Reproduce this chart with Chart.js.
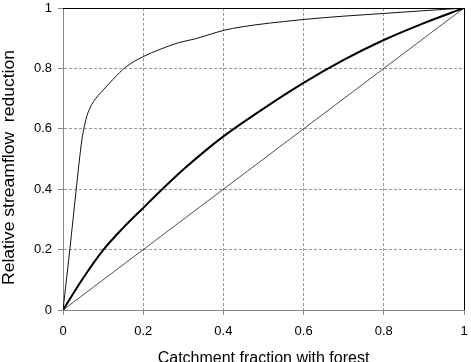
<!DOCTYPE html>
<html><head><meta charset="utf-8">
<script src="https://cdn.jsdelivr.net/npm/chart.js@4"></script>
<style>html,body{margin:0;padding:0;background:#fff}#c{display:block}</style>
</head><body>
<canvas id="c" width="471" height="362"></canvas>
<script>
const xTicks = [0, 0.2, 0.4, 0.6, 0.8, 1];
const yTicks = [0, 0.2, 0.4, 0.6, 0.8, 1];
const xTitleText = 'Catchment fraction with forest';
const yTitleText = 'Relative streamflow  reduction';
const upperX = [0, 0.017, 0.033, 0.047, 0.052, 0.059, 0.067, 0.076, 0.1, 0.125, 0.157, 0.2, 0.242, 0.288, 0.33, 0.36, 0.404, 0.479, 0.55, 0.6, 0.7, 0.8, 0.9, 1];
const upperY = [0, 0.2, 0.4, 0.563, 0.6, 0.64, 0.668, 0.69, 0.728, 0.764, 0.805, 0.839, 0.863, 0.885, 0.898, 0.91, 0.927, 0.944, 0.955, 0.962, 0.973, 0.982, 0.991, 1];
const thickX = [0, 0.05, 0.1, 0.15, 0.2, 0.25, 0.3, 0.35, 0.4, 0.5, 0.6, 0.7, 0.8, 0.9, 1];
const thickY = [0, 0.105, 0.198, 0.272, 0.338, 0.403, 0.465, 0.522, 0.575, 0.667, 0.752, 0.828, 0.894, 0.95, 1];
const diagX = [0, 1];
const diagY = [0, 1];

const pts = (xs, ys) => xs.map((x, i) => ({x, y: ys[i]}));
const fontFam = '"Liberation Sans", Arial, sans-serif';

const frame = {
  id: 'frame',
  afterDatasetsDraw(chart) {
    const {ctx, chartArea: a} = chart;
    ctx.save();
    ctx.strokeStyle = '#000';
    ctx.lineWidth = 1;
    ctx.beginPath();
    ctx.moveTo(a.left, a.top + 0.5);
    ctx.lineTo(a.right + 0.5, a.top + 0.5);
    ctx.lineTo(a.right + 0.5, a.bottom);
    ctx.stroke();
    ctx.restore();
  },
  afterDraw(chart) {
    // y-axis title, drawn slightly condensed like the reference
    const {ctx, chartArea: a} = chart;
    ctx.save();
    ctx.font = '16px ' + fontFam;
    ctx.fillStyle = '#000';
    ctx.textAlign = 'center';
    ctx.textBaseline = 'alphabetic';
    const w = ctx.measureText(yTitleText).width;
    const targetLen = 235;
    ctx.translate(13.5, (a.top + a.bottom) / 2 + 8.5);
    ctx.rotate(-Math.PI / 2);
    ctx.scale(targetLen / w, 1);
    ctx.fillText(yTitleText, 0, 0);
    ctx.restore();
  }
};

new Chart(document.getElementById('c'), {
  type: 'scatter',
  data: {
    datasets: [
      {data: pts(upperX, upperY), showLine: true, borderColor: '#111', borderWidth: 1, pointRadius: 0, cubicInterpolationMode: 'monotone'},
      {data: pts(thickX, thickY), showLine: true, borderColor: '#000', borderWidth: 2, pointRadius: 0, cubicInterpolationMode: 'monotone'},
      {data: pts(diagX, diagY), showLine: true, borderColor: '#222', borderWidth: 0.8, pointRadius: 0}
    ]
  },
  options: {
    responsive: false,
    animation: false,
    layout: {padding: {top: 8, right: 7, left: 0, bottom: 0}},
    plugins: {legend: {display: false}, tooltip: {enabled: false}},
    scales: {
      x: {
        type: 'linear', min: 0, max: 1,
        afterBuildTicks: s => { s.ticks = xTicks.map(v => ({value: v})); },
        afterFit: s => { s.height = 52; s.paddingLeft = 0; s.paddingRight = 0; },
        ticks: {color: '#000', font: {family: fontFam, size: 13}, padding: 9, callback: v => String(v)},
        grid: {color: '#999', tickLength: 5, tickColor: '#888'},
        border: {color: '#888', width: 1, dash: [3, 2]},
        title: {display: true, text: xTitleText, color: '#000', font: {family: fontFam, size: 16}, padding: {top: 0, bottom: -6}}
      },
      y: {
        type: 'linear', min: 0, max: 1,
        afterBuildTicks: s => { s.ticks = yTicks.map(v => ({value: v})); },
        afterFit: s => { s.width = 63; s.paddingTop = 0; s.paddingBottom = 0; },
        ticks: {color: '#000', font: {family: fontFam, size: 13}, padding: 6, callback: v => String(v)},
        grid: {color: '#999', tickLength: 5, tickColor: '#888'},
        border: {color: '#888', width: 1, dash: [3, 2]},
        title: {display: false, text: yTitleText}
      }
    }
  },
  plugins: [frame]
});
</script>
</body></html>
